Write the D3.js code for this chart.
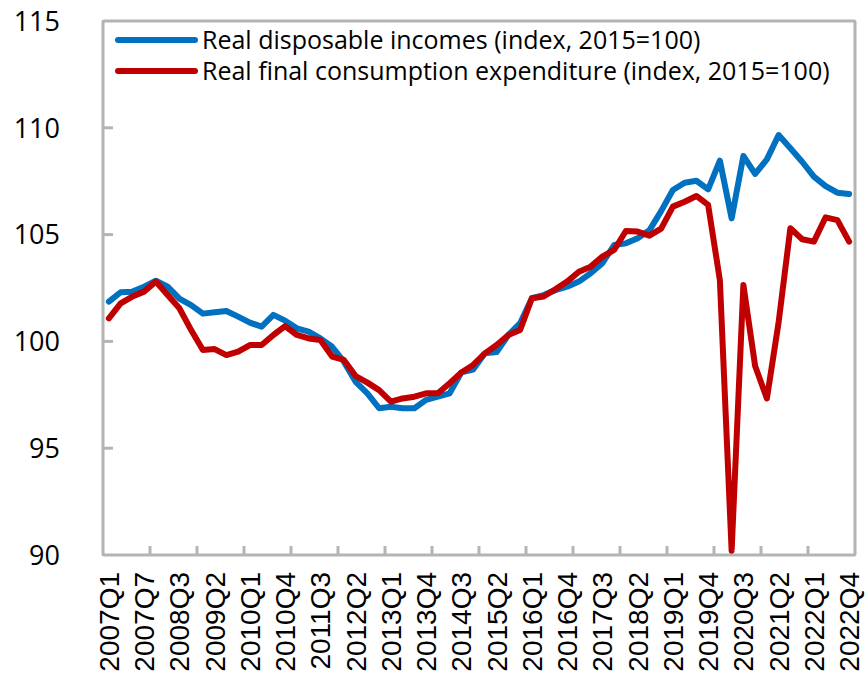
<!DOCTYPE html>
<html>
<head>
<meta charset="utf-8">
<script src="https://cdn.jsdelivr.net/npm/d3@7"></script>
<style>
  body { margin: 0; background: #fff; }
  svg { display: block; }
  .ylab text { font-family: "Open Sans", sans-serif; font-size: 27px; fill: #000; }
  .xlab text { font-family: "Liberation Sans", Arial, sans-serif; font-size: 28px; fill: #000; }
  .legend text { font-family: "Open Sans", sans-serif; font-size: 25px; fill: #000; }
</style>
</head>
<body>
<svg width="866" height="685"></svg>
<script>
// quarters 2007Q1 .. 2022Q4
var quarters = [];
for (var yr = 2007; yr <= 2022; yr++) {
  for (var q = 1; q <= 4; q++) quarters.push(yr + "Q" + q);
}

// labels as printed on the axis (every third quarter)
var tickLabels = ["2007Q1", "2007Q7", "2008Q3", "2009Q2", "2010Q1", "2010Q4", "2011Q3",
  "2012Q2", "2013Q1", "2013Q4", "2014Q3", "2015Q2", "2016Q1", "2016Q4", "2017Q3",
  "2018Q2", "2019Q1", "2019Q4", "2020Q3", "2021Q2", "2022Q1", "2022Q4"];

var income = [101.86, 102.3, 102.33, 102.56, 102.84, 102.56, 102.0, 101.7,
  101.3, 101.36, 101.42, 101.16, 100.88, 100.69, 101.24, 100.97,
  100.61, 100.46, 100.14, 99.75, 99.05, 98.11, 97.57, 96.87,
  96.94, 96.87, 96.87, 97.26, 97.41, 97.57, 98.55, 98.68,
  99.44, 99.5, 100.3, 100.85, 102.02, 102.17, 102.4, 102.56,
  102.8, 103.19, 103.66, 104.51, 104.59, 104.83, 105.2, 106.1,
  107.09, 107.43, 107.52, 107.12, 108.46, 105.76, 108.68, 107.84,
  108.52, 109.66, 109.04, 108.41, 107.71, 107.27, 106.96, 106.9];

var consumption = [101.08, 101.78, 102.1, 102.33, 102.8, 102.17, 101.55, 100.53,
  99.6, 99.64, 99.36, 99.52, 99.83, 99.83, 100.3, 100.72,
  100.3, 100.14, 100.07, 99.29, 99.13, 98.38, 98.07, 97.72,
  97.18, 97.33, 97.41, 97.57, 97.57, 98.04, 98.54, 98.9,
  99.44, 99.83, 100.3, 100.53, 102.02, 102.1, 102.44, 102.8,
  103.26, 103.5, 103.97, 104.28, 105.17, 105.14, 104.95, 105.28,
  106.31, 106.54, 106.81, 106.39, 102.87, 90.2, 102.64, 98.85,
  97.33, 100.9, 105.3, 104.78, 104.67, 105.81, 105.68, 104.67];

var seriesNames = ["Real disposable incomes (index, 2015=100)",
  "Real final consumption expenditure (index, 2015=100)"];
var seriesColors = ["#0070C0", "#C00000"];

var svg = d3.select("svg");
var plotLeft = 103, plotRight = 855, plotTop = 21, plotBottom = 555;

var x = d3.scaleBand().domain(quarters).range([plotLeft, plotRight]).padding(0);
var y = d3.scaleLinear().domain([90, 115]).range([plotBottom, plotTop]);

var grey = "#b4b4b4";

// y labels
var ylab = svg.append("g").attr("class", "ylab");
ylab.selectAll("text")
  .data(y.ticks(5))
  .enter().append("text")
    .attr("x", 60)
    .attr("y", function(d) { return y(d); })
    .attr("dy", "0.36em")
    .attr("text-anchor", "end")
    .text(function(d) { return d; });

// inward y ticks
svg.append("g").selectAll("line")
  .data([95, 100, 105, 110])
  .enter().append("line")
    .attr("x1", plotLeft).attr("x2", plotLeft + 10)
    .attr("y1", function(d) { return y(d); })
    .attr("y2", function(d) { return y(d); })
    .attr("stroke", grey).attr("stroke-width", 3);

// inward x ticks at year boundaries
var yearStarts = quarters.filter(function(d, i) { return i > 0 && i % 4 === 0; });
svg.append("g").selectAll("line")
  .data(yearStarts)
  .enter().append("line")
    .attr("x1", function(d) { return x(d); })
    .attr("x2", function(d) { return x(d); })
    .attr("y1", plotBottom).attr("y2", plotBottom - 9)
    .attr("stroke", grey).attr("stroke-width", 3);

// frame
svg.append("rect")
  .attr("x", plotLeft).attr("y", plotTop)
  .attr("width", plotRight - plotLeft).attr("height", plotBottom - plotTop)
  .attr("fill", "none")
  .attr("stroke", grey).attr("stroke-width", 3)
  .attr("rx", 1);

// x labels
var labelQuarters = quarters.filter(function(d, i) { return i % 3 === 0; });
var xlab = svg.append("g").attr("class", "xlab");
xlab.selectAll("text")
  .data(labelQuarters)
  .enter().append("text")
    .attr("transform", function(d) {
      return "translate(" + (x(d) + x.bandwidth() / 2) + "," + 572 + ") rotate(-90)";
    })
    .attr("dy", "0.36em")
    .attr("text-anchor", "end")
    .text(function(d, i) { return tickLabels[i]; });

// lines
var line = d3.line()
  .x(function(d, i) { return x(quarters[i]) + x.bandwidth() / 2; })
  .y(function(d) { return y(d); });

[income, consumption].forEach(function(s, k) {
  svg.append("path")
    .datum(s)
    .attr("fill", "none")
    .attr("stroke", seriesColors[k])
    .attr("stroke-width", 6)
    .attr("stroke-linejoin", "round")
    .attr("stroke-linecap", "round")
    .attr("d", line);
});

// legend
var legend = svg.append("g").attr("class", "legend");
seriesNames.forEach(function(name, k) {
  var ly = 40 + k * 31;
  legend.append("line")
    .attr("x1", 118).attr("x2", 195)
    .attr("y1", ly).attr("y2", ly)
    .attr("stroke", seriesColors[k]).attr("stroke-width", 6)
    .attr("stroke-linecap", "round");
  legend.append("text")
    .attr("x", 202).attr("y", ly)
    .attr("dy", "0.35em")
    .text(name);
});
</script>
</body>
</html>
